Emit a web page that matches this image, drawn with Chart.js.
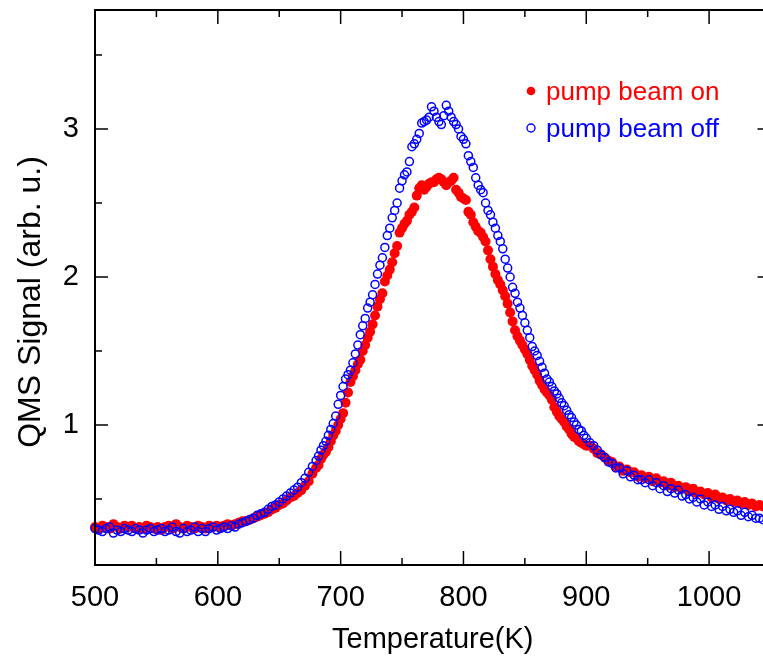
<!DOCTYPE html>
<html>
<head>
<meta charset="utf-8">
<script src="https://cdn.jsdelivr.net/npm/chart.js@4.4.1/dist/chart.umd.min.js"></script>
<style>
    html, body { margin: 0; padding: 0; background: #fff; }
    #wrap { width: 763px; height: 659px; overflow: hidden; }
    canvas { display: block; }
</style>
</head>
<body>
<div id="wrap"><canvas id="tpdChart" width="776" height="659"></canvas></div>
<script>
// Temperature of every sample (K), denser through the desorption peak
const temperatures = [
    500, 503, 506, 509, 512, 515, 518, 521, 524, 527,
    530, 533, 536, 539, 542, 545, 548, 551, 554, 557,
    560, 563, 566, 569, 572, 575, 578, 581, 584, 587,
    590, 593, 596, 599, 602, 605, 608, 611, 614, 617,
    620, 623, 626, 629, 632, 635, 638, 641, 644, 647,
    650, 653, 656, 659, 662, 665, 668, 671, 674, 677,
    680, 682, 684, 686, 688, 690, 692, 694, 696, 698,
    700, 702, 704, 706, 708, 710, 712, 714, 716, 718,
    720, 722, 724, 726, 728, 730, 732, 734, 736, 738,
    740, 742, 744, 746, 748, 750, 752, 754, 756, 758,
    760, 762, 764, 766, 768, 770, 772, 774, 776, 778,
    780, 782, 784, 786, 788, 790, 792, 794, 796, 798,
    800, 802, 804, 806, 808, 810, 812, 814, 816, 818,
    820, 822, 824, 826, 828, 830, 832, 834, 836, 838,
    840, 842, 844, 846, 848, 850, 852, 854, 856, 858,
    860, 862, 864, 866, 868, 870, 872, 874, 876, 878,
    880, 882, 884, 886, 888, 890, 892, 894, 896, 898,
    900,
    903, 906, 909, 912, 915, 918, 921, 924, 927, 930,
    933, 936, 939, 942, 945, 948, 951, 954, 957, 960,
    963, 966, 969, 972, 975, 978, 981, 984, 987, 990,
    993, 996, 999, 1002, 1005, 1008, 1011, 1014, 1017, 1020,
    1023, 1026, 1029, 1032, 1035, 1038, 1041, 1044
];

// QMS signal with the pump beam on (red, filled)
const beamOn = [
    0.31, 0.30, 0.32, 0.31, 0.30, 0.33, 0.31, 0.30, 0.32, 0.31,
    0.32, 0.30, 0.31, 0.30, 0.32, 0.31, 0.30, 0.31, 0.29, 0.31,
    0.32, 0.30, 0.33, 0.31, 0.30, 0.32, 0.31, 0.30, 0.32, 0.31,
    0.30, 0.32, 0.31, 0.32, 0.31, 0.32, 0.33, 0.32, 0.33, 0.34,
    0.35, 0.35, 0.36, 0.37, 0.38, 0.39, 0.40, 0.41, 0.43, 0.44,
    0.46, 0.47, 0.49, 0.51, 0.52, 0.54, 0.56, 0.59, 0.62, 0.67,
    0.71, 0.73, 0.77, 0.80, 0.82, 0.85, 0.89, 0.93, 0.96, 1.00,
    1.04, 1.08, 1.15, 1.22, 1.29, 1.33, 1.37, 1.41, 1.44, 1.50,
    1.54, 1.59, 1.63, 1.68, 1.74, 1.80, 1.85, 1.89, 1.97, 2.01,
    2.05, 2.10, 2.16, 2.21, 2.30, 2.33, 2.36, 2.38, 2.42, 2.44,
    2.47, 2.55, 2.60, 2.62, 2.59, 2.61, 2.63, 2.64, 2.64, 2.66,
    2.67, 2.66, 2.64, 2.62, 2.64, 2.65, 2.67, 2.59, 2.57, 2.54,
    2.53, 2.52, 2.44, 2.42, 2.37, 2.34, 2.31, 2.30, 2.27, 2.24,
    2.18, 2.12, 2.07, 2.02, 1.98, 1.95, 1.91, 1.87, 1.82, 1.76,
    1.70, 1.64, 1.60, 1.57, 1.54, 1.51, 1.48, 1.44, 1.40, 1.37,
    1.34, 1.30, 1.27, 1.24, 1.22, 1.20, 1.17, 1.12, 1.09, 1.06,
    1.04, 1.02, 0.99, 0.97, 0.94, 0.92, 0.91, 0.89, 0.88, 0.87,
    0.86,
    0.86, 0.84, 0.81, 0.80, 0.78, 0.76, 0.75, 0.72, 0.72, 0.69,
    0.70, 0.68, 0.68, 0.65, 0.66, 0.64, 0.65, 0.62, 0.64, 0.61,
    0.62, 0.59, 0.61, 0.58, 0.59, 0.57, 0.58, 0.55, 0.57, 0.54,
    0.55, 0.53, 0.54, 0.51, 0.53, 0.50, 0.51, 0.49, 0.50, 0.48,
    0.49, 0.47, 0.48, 0.46, 0.47, 0.45, 0.46, 0.45
];

// QMS signal with the pump beam off (blue, open)
const beamOff = [
    0.30, 0.29, 0.28, 0.30, 0.31, 0.27, 0.29, 0.28, 0.30, 0.29,
    0.28, 0.30, 0.29, 0.27, 0.29, 0.30, 0.28, 0.29, 0.30, 0.28,
    0.29, 0.31, 0.28, 0.27, 0.30, 0.28, 0.29, 0.31, 0.28, 0.30,
    0.28, 0.30, 0.31, 0.29, 0.30, 0.31, 0.30, 0.32, 0.31, 0.33,
    0.34, 0.35, 0.36, 0.37, 0.39, 0.40, 0.41, 0.43, 0.45, 0.46,
    0.48, 0.50, 0.52, 0.54, 0.56, 0.58, 0.61, 0.64, 0.68, 0.72,
    0.76, 0.79, 0.83, 0.86, 0.89, 0.93, 0.97, 1.01, 1.06, 1.14,
    1.20, 1.26, 1.31, 1.34, 1.37, 1.42, 1.48, 1.54, 1.61, 1.67,
    1.72, 1.79, 1.83, 1.88, 1.95, 2.02, 2.08, 2.13, 2.20, 2.28,
    2.33, 2.40, 2.45, 2.50, 2.60, 2.65, 2.69, 2.71, 2.78, 2.88,
    2.90, 2.93, 2.97, 3.04, 3.05, 3.06, 3.08, 3.15, 3.12, 3.08,
    3.05, 3.03, 3.09, 3.16, 3.12, 3.08, 3.05, 3.03, 3.00, 2.95,
    2.93, 2.90, 2.82, 2.78, 2.74, 2.67, 2.62, 2.59, 2.57, 2.50,
    2.45, 2.42, 2.37, 2.33, 2.28, 2.24, 2.19, 2.12, 2.06, 2.00,
    1.93, 1.89, 1.83, 1.79, 1.74, 1.69, 1.64, 1.59, 1.53, 1.50,
    1.47, 1.43, 1.39, 1.35, 1.31, 1.29, 1.26, 1.23, 1.21, 1.18,
    1.15, 1.13, 1.10, 1.07, 1.05, 1.02, 1.00, 0.97, 0.96, 0.93,
    0.91,
    0.88, 0.86, 0.83, 0.80, 0.78, 0.75, 0.74, 0.71, 0.71, 0.67,
    0.69, 0.65, 0.66, 0.63, 0.63, 0.61, 0.63, 0.59, 0.61, 0.57,
    0.59, 0.55, 0.57, 0.54, 0.56, 0.52, 0.53, 0.50, 0.51, 0.48,
    0.50, 0.46, 0.48, 0.45, 0.46, 0.43, 0.45, 0.42, 0.43, 0.41,
    0.42, 0.39, 0.41, 0.38, 0.39, 0.37, 0.37, 0.36
];

// Axis ticks: all get a mark, only the labelled ones get a long mark
const xTicks = [500, 550, 600, 650, 700, 750, 800, 850, 900, 950, 1000, 1050];
const xLabels = [500, 600, 700, 800, 900, 1000];
const yTicks = [0.5, 1, 1.5, 2, 2.5, 3, 3.5];
const yLabels = [1, 2, 3];

const yTitle = 'QMS Signal (arb. u.)';
const legendLabels = ['pump beam on', 'pump beam off'];
const FONT = '"Liberation Sans", Arial, Helvetica, sans-serif';

// Frame and inward tick marks on all four sides
const frameTicks = {
    id: 'frameTicks',
    afterDatasetsDraw(chart) {
        const { ctx, chartArea: a, scales: { x, y } } = chart;
        const line = (x1, y1, x2, y2) => {
            ctx.beginPath();
            ctx.moveTo(x1, y1);
            ctx.lineTo(x2, y2);
            ctx.stroke();
        };
        ctx.save();
        ctx.strokeStyle = '#000';
        ctx.lineWidth = 1.5;
        xTicks.forEach(v => {
            const px = x.getPixelForValue(v);
            const len = xLabels.includes(v) ? 14 : 7;
            line(px, a.bottom, px, a.bottom - len);
            line(px, a.top, px, a.top + len);
        });
        yTicks.forEach(v => {
            const py = y.getPixelForValue(v);
            const len = yLabels.includes(v) ? 13 : 7;
            line(a.left, py, a.left + len, py);
            line(a.right, py, a.right - len, py);
        });
        ctx.lineWidth = 2;
        ctx.strokeRect(a.left, a.top, a.right - a.left, a.bottom - a.top);
        ctx.restore();
    }
};

// Rotated y title, sitting a little below the middle of the axis
const yAxisTitle = {
    id: 'yAxisTitle',
    afterDraw(chart) {
        const { ctx } = chart;
        ctx.save();
        ctx.translate(31, 302);
        ctx.rotate(-Math.PI / 2);
        ctx.font = '32px ' + FONT;
        ctx.fillStyle = '#000';
        ctx.textAlign = 'center';
        ctx.textBaseline = 'middle';
        ctx.fillText(yTitle, 0, 0);
        ctx.restore();
    }
};

// Legend written inside the plot, text in the series colour
const innerLegend = {
    id: 'innerLegend',
    afterDraw(chart) {
        const { ctx } = chart;
        const sets = [chart.data.datasets[1], chart.data.datasets[0]];
        ctx.save();
        ctx.font = '26px ' + FONT;
        ctx.textBaseline = 'alphabetic';
        sets.forEach((ds, i) => {
            const cy = 91 + i * 37;
            ctx.beginPath();
            if (ds.pointBorderWidth > 0) {
                ctx.arc(531, cy, 4, 0, Math.PI * 2);
                ctx.lineWidth = 1.4;
                ctx.strokeStyle = ds.pointBorderColor;
                ctx.stroke();
            } else {
                ctx.arc(531, cy, 4.3, 0, Math.PI * 2);
                ctx.fillStyle = ds.pointBackgroundColor;
                ctx.fill();
            }
            ctx.fillStyle = ds.labelColor;
            ctx.fillText(legendLabels[i], 546, cy + 9);
        });
        ctx.restore();
    }
};

document.addEventListener('DOMContentLoaded', () => {
    const ctx = document.getElementById('tpdChart').getContext('2d');

    new Chart(ctx, {
        type: 'scatter',
        data: {
            datasets: [{
                label: 'pump beam off',
                data: temperatures.map((t, i) => ({ x: t, y: beamOff[i] })),
                pointRadius: 4,
                pointBorderWidth: 1.5,
                pointBorderColor: '#0000ff',
                pointBackgroundColor: 'rgba(0,0,0,0)',
                labelColor: '#0000ff',
                clip: 10,
                order: 1
            }, {
                label: 'pump beam on',
                data: temperatures.map((t, i) => ({ x: t, y: beamOn[i] })),
                pointRadius: 5,
                pointBorderWidth: 0,
                pointBorderColor: '#ff0000',
                pointBackgroundColor: '#ff0000',
                labelColor: '#ff0000',
                clip: 10,
                order: 2
            }]
        },
        options: {
            responsive: false,
            animation: false,
            events: [],
            layout: { padding: { left: 0, right: 3, top: 10, bottom: 0 } },
            plugins: {
                legend: { display: false },
                tooltip: { enabled: false }
            },
            scales: {
                x: {
                    type: 'linear',
                    min: 500,
                    max: 1050,
                    afterFit: s => {
                        s.height = 94;
                        s.paddingLeft = 0;
                        s.paddingRight = 0;
                    },
                    afterBuildTicks: s => { s.ticks = xTicks.map(v => ({ value: v })); },
                    grid: { display: false, drawTicks: false },
                    border: { display: false },
                    ticks: {
                        autoSkip: false,
                        maxRotation: 0,
                        padding: 16,
                        color: '#000',
                        font: { family: FONT, size: 29 },
                        callback: v => xLabels.includes(v) ? String(v) : ''
                    },
                    title: {
                        display: true,
                        text: 'Temperature(K)',
                        color: '#000',
                        font: { family: FONT, size: 29 },
                        padding: { top: 0, bottom: 2 }
                    }
                },
                y: {
                    type: 'linear',
                    min: 0.054,
                    max: 3.804,
                    afterFit: s => {
                        s.width = 95;
                        s.paddingTop = 0;
                        s.paddingBottom = 0;
                    },
                    afterBuildTicks: s => { s.ticks = yTicks.map(v => ({ value: v })); },
                    grid: { display: false, drawTicks: false },
                    border: { display: false },
                    ticks: {
                        autoSkip: false,
                        padding: 16,
                        color: '#000',
                        font: { family: FONT, size: 29 },
                        callback: v => yLabels.includes(v) ? String(v) : ''
                    }
                }
            }
        },
        plugins: [frameTicks, yAxisTitle, innerLegend]
    });
});
</script>
</body>
</html>
